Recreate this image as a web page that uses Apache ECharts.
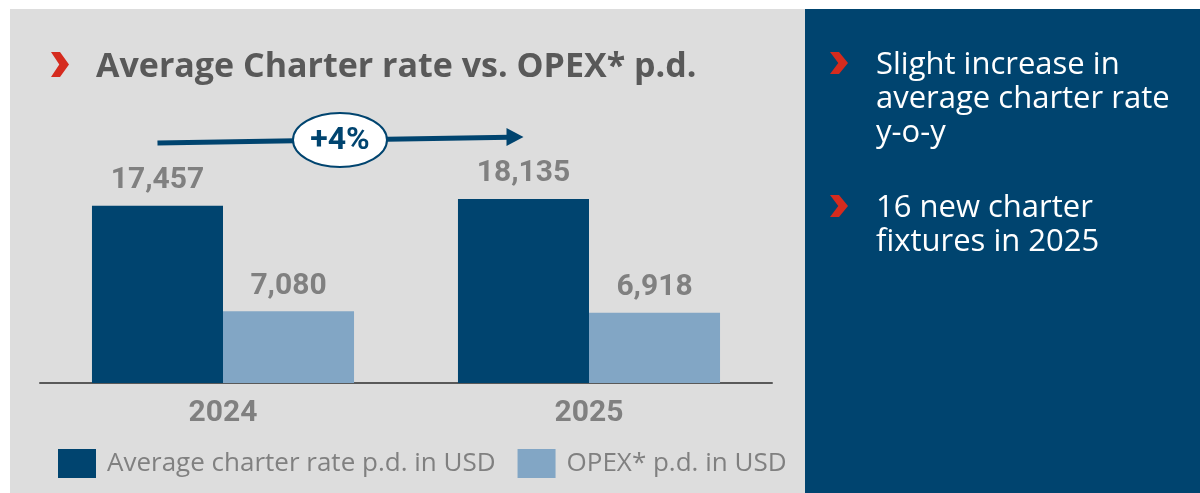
<!DOCTYPE html>
<html>
<head>
<meta charset="utf-8">
<script src="https://cdn.jsdelivr.net/npm/echarts@6/dist/echarts.min.js"></script>
<style>
  html, body { margin: 0; padding: 0; background: #fff; }
  #main { width: 1200px; height: 493px; }
</style>
</head>
<body>
<div id="main"></div>
<script>
// data
const years = ['2024', '2025'];
const charterRate = [17457, 18135];
const opex = [7080, 6918];
const seriesNames = ['Average charter rate p.d. in USD', 'OPEX* p.d. in USD'];
const changeLabel = '+4%';
const titleText = 'Average Charter rate vs. OPEX* p.d.';
const bullets = [
  ['Slight increase in', 'average charter rate', 'y-o-y'],
  ['16 new charter', 'fixtures in 2025']
];

const DARK = '#00446f';
const LIGHT = '#82a6c5';
const GREY_BG = '#dddddd';
const RED = '#d52b1e';
const FONT = 'Roboto, "Noto Sans", sans-serif';
const TEXT_FONT = '"Open Sans", Roboto, sans-serif';
const CAT_GAP = 0.284;

const chart = echarts.init(document.getElementById('main'));

function chevron(id, x, y, w, h) {
  return {
    id: id,
    type: 'polygon',
    z: 5,
    shape: {
      points: [[x, y], [x + w * 0.5, y], [x + w, y + h / 2], [x + w * 0.5, y + h], [x, y + h], [x + w * 0.46, y + h / 2]]
    },
    style: { fill: RED }
  };
}

const fmt = v => v.toLocaleString('en-US');

let option = {
  backgroundColor: '#ffffff',
  animation: false,
  textStyle: { fontFamily: FONT },
  grid: { left: 40, right: 428, top: 180, bottom: 110 },
  legend: {
    data: seriesNames,
    left: 53,
    top: 444,
    itemWidth: 38,
    itemHeight: 29,
    itemGap: 22,
    icon: 'rect',
    textStyle: { fontSize: 26, color: '#808080', fontFamily: TEXT_FONT, padding: [0, 0, 0, 6] }
  },
  xAxis: {
    type: 'category',
    data: years,
    axisTick: { show: false },
    axisLine: { lineStyle: { color: '#595959', width: 2 } },
    axisLabel: { fontSize: 30, fontWeight: 'bold', color: '#808080', margin: 15, fontFamily: FONT }
  },
  yAxis: {
    type: 'value',
    min: 0,
    max: 20000,
    show: false,
    splitLine: { show: false }
  },
  series: [
    {
      name: seriesNames[0],
      type: 'bar',
      data: charterRate,
      barGap: '0%',
      barCategoryGap: (CAT_GAP * 100) + '%',
      itemStyle: { color: DARK },
      label: {
        show: true, position: 'top', distance: 10,
        fontSize: 30, fontWeight: 'bold', color: '#808080', fontFamily: FONT,
        formatter: p => fmt(p.value)
      }
    },
    {
      name: seriesNames[1],
      type: 'bar',
      data: opex,
      itemStyle: { color: LIGHT },
      label: {
        show: true, position: 'top', distance: 10,
        fontSize: 30, fontWeight: 'bold', color: '#808080', fontFamily: FONT,
        formatter: p => fmt(p.value)
      }
    }
  ]
};

chart.setOption(option);

// decorations: panels, title, bullet text, growth arrow
const c0 = chart.convertToPixel({ xAxisIndex: 0 }, years[0]);
const c1 = chart.convertToPixel({ xAxisIndex: 0 }, years[1]);
const catW = c1 - c0;
const barW = catW * (1 - CAT_GAP) / 2;
const ax0 = c0 - barW / 2;
const ax1 = c1 - barW / 2;
const ay0 = 143, ay1 = 137;
const midX = (ax0 + ax1) / 2 - 0.5;
const midY = (ay0 + ay1) / 2;

const graphics = [
  { id: 'greyPanel', type: 'rect', z: -10, shape: { x: 10, y: 9, width: 795, height: 484 }, style: { fill: GREY_BG } },
  { id: 'bluePanel', type: 'rect', z: -10, shape: { x: 805, y: 9, width: 395, height: 484 }, style: { fill: DARK } },
  chevron('titleChev', 51, 52, 18, 25),
  {
    id: 'title', type: 'text', z: 5, x: 96, y: 67,
    style: { text: titleText, font: 'bold 34px ' + TEXT_FONT, fill: '#595959', verticalAlign: 'middle' }
  },
  {
    id: 'arrowLine', type: 'line', z: 5,
    shape: { x1: ax0, y1: ay0, x2: ax1 - 14, y2: ay1 + 0.2 },
    style: { stroke: DARK, lineWidth: 5 }
  },
  {
    id: 'arrowHead', type: 'polygon', z: 5,
    shape: { points: [[ax1, ay1], [ax1 - 17, ay1 - 9], [ax1 - 17, ay1 + 9]] },
    style: { fill: DARK }
  },
  {
    id: 'bubble', type: 'ellipse', z: 6,
    shape: { cx: midX, cy: midY, rx: 47, ry: 27 },
    style: { fill: '#ffffff', stroke: DARK, lineWidth: 2 }
  },
  {
    id: 'bubbleText', type: 'text', z: 7, x: midX, y: midY + 1,
    style: { text: changeLabel, font: 'bold 32px ' + FONT, fill: DARK, align: 'center', verticalAlign: 'middle' }
  }
];

const bulletTops = [48, 191];
bullets.forEach((lines, i) => {
  graphics.push(chevron('bChev' + i, 830, bulletTops[i] + 4, 18, 22));
  graphics.push({
    id: 'bText' + i, type: 'text', z: 5, x: 876, y: bulletTops[i],
    style: { text: lines.join('\n'), font: '31px ' + TEXT_FONT, fill: '#ffffff', lineHeight: 34, verticalAlign: 'top' }
  });
});

chart.setOption({ graphic: graphics });
</script>
</body>
</html>
